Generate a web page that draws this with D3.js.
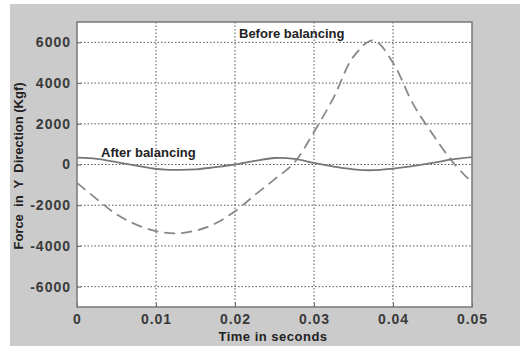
<!DOCTYPE html>
<html>
<head>
<meta charset="utf-8">
<script src="https://cdn.jsdelivr.net/npm/d3@7"></script>
<style>
  body { margin: 0; background: #fff; }
  text { font-family: Arial, "Liberation Sans", sans-serif; font-weight: bold; }
</style>
</head>
<body>
<div id="viz"></div>
<script>
// time samples (s)
var times = [0, 0.0025, 0.005, 0.0075, 0.01, 0.0125, 0.015, 0.0175, 0.02, 0.0225, 0.025,
             0.0275, 0.03, 0.0325, 0.035, 0.0375, 0.04, 0.0425, 0.045, 0.0475, 0.05];
// force before balancing (Kgf), dashed
var beforeVals = [-900, -1700, -2450, -2950, -3270, -3380, -3250, -2900, -2300, -1500, -730,
                  90, 1600, 3300, 5300, 6100, 5000, 3000, 1500, 150, -900];
// force after balancing (Kgf), solid
var afterVals = [340, 280, 120, -50, -210, -260, -240, -130, 0, 180, 320,
                 280, 80, -100, -240, -280, -200, -80, 80, 250, 360];
var xTicks = [0, 0.01, 0.02, 0.03, 0.04, 0.05];
var yTicks = [-6000, -4000, -2000, 0, 2000, 4000, 6000];

var W = 524, H = 346;
var pLeft = 77, pRight = 472, pTop = 22, pBottom = 307;

var svg = d3.select("#viz").append("svg")
    .attr("width", W)
    .attr("height", H);

// grey figure background
svg.append("rect")
    .attr("x", 10).attr("y", 4)
    .attr("width", 510).attr("height", H - 4)
    .attr("fill", "#cbcbcb");

var x = d3.scaleLinear().domain([0, 0.05]).range([pLeft, pRight]);
var y = d3.scaleLinear().domain([-7000, 7000]).range([pBottom, pTop]);

svg.append("rect")
    .attr("x", pLeft).attr("y", pTop)
    .attr("width", pRight - pLeft).attr("height", pBottom - pTop)
    .attr("fill", "#fff");

// grid
svg.append("g").selectAll("line")
    .data(xTicks.slice(1, -1))
    .enter().append("line")
    .attr("x1", d => x(d)).attr("x2", d => x(d))
    .attr("y1", pTop).attr("y2", pBottom)
    .attr("stroke", "#555").attr("stroke-width", 1)
    .attr("stroke-dasharray", "1.5,2");
svg.append("g").selectAll("line")
    .data(yTicks)
    .enter().append("line")
    .attr("x1", pLeft).attr("x2", pRight)
    .attr("y1", d => y(d)).attr("y2", d => y(d))
    .attr("stroke", "#555").attr("stroke-width", 1)
    .attr("stroke-dasharray", "1.5,2");

// axes
var xAxis = svg.append("g")
    .attr("transform", "translate(0," + pBottom + ")")
    .call(d3.axisBottom(x).tickValues(xTicks).tickSize(-4).tickPadding(7)
          .tickFormat(d => d === 0 ? "0" : d.toFixed(2)));
var yAxis = svg.append("g")
    .attr("transform", "translate(" + pLeft + ",0)")
    .call(d3.axisLeft(y).tickValues(yTicks).tickSize(-4).tickPadding(6)
          .tickFormat(d => String(d)));
[xAxis, yAxis].forEach(function(a) {
  a.select(".domain").remove();
  a.selectAll(".tick line").attr("stroke", "#666");
  a.selectAll("text")
    .attr("fill", "#3a3a3a")
    .style("font-size", "14px")
    .style("letter-spacing", "1px");
});

// frame
svg.append("rect")
    .attr("x", pLeft).attr("y", pTop)
    .attr("width", pRight - pLeft).attr("height", pBottom - pTop)
    .attr("fill", "none")
    .attr("stroke", "#777").attr("stroke-width", 1.5);

var line = d3.line().curve(d3.curveCatmullRom);

svg.append("path")
    .attr("d", line(times.map((t, i) => [x(t), y(beforeVals[i])])))
    .attr("fill", "none")
    .attr("stroke", "#888").attr("stroke-width", 1.8)
    .attr("stroke-dasharray", "11,6");

svg.append("path")
    .attr("d", line(times.map((t, i) => [x(t), y(afterVals[i])])))
    .attr("fill", "none")
    .attr("stroke", "#777").attr("stroke-width", 1.8);

// labels
svg.append("text")
    .attr("x", 239).attr("y", 38)
    .attr("fill", "#222").style("font-size", "13px")
    .text("Before balancing");
svg.append("text")
    .attr("x", 101).attr("y", 157)
    .attr("fill", "#222").style("font-size", "13px")
    .text("After balancing");

svg.append("text")
    .attr("x", 273).attr("y", 341)
    .attr("text-anchor", "middle")
    .attr("fill", "#222").style("font-size", "13px")
    .style("letter-spacing", "0.5px")
    .text("Time in seconds");

svg.append("text")
    .attr("transform", "translate(23,166) rotate(-90)")
    .attr("text-anchor", "middle")
    .attr("fill", "#222").style("font-size", "13px")
    .style("white-space", "pre")
    .text("Force  in  Y  Direction (Kgf)");
</script>
</body>
</html>
